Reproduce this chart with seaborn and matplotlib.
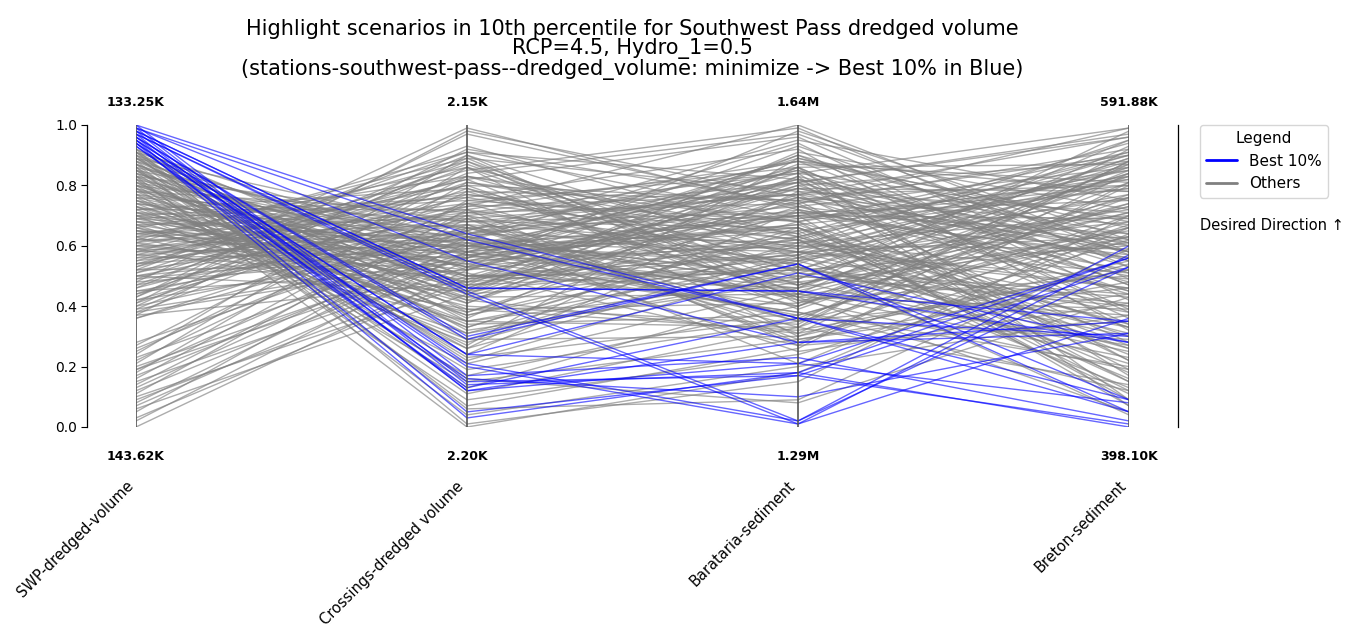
import numpy as np
import pandas as pd
import matplotlib
matplotlib.use("Agg")
import matplotlib.pyplot as plt
from matplotlib.lines import Line2D
import seaborn as sns

sns.set_style("white")
plt.rcParams["text.color"] = "black"
plt.rcParams["xtick.color"] = "black"
plt.rcParams["ytick.color"] = "black"

# axis names and the raw range shown at the top / bottom of each axis
axes_names = ["SWP-dredged-volume", "Crossings-dredged volume",
              "Barataria-sediment", "Breton-sediment"]
top_labels = ["133.25K", "2.15K", "1.64M", "591.88K"]
bottom_labels = ["143.62K", "2.20K", "1.29M", "398.10K"]

# normalised values (0 = bottom of axis, 1 = top), one entry per scenario
swp = [1.00, 0.99, 0.99, 0.98, 0.98, 0.97, 0.97, 0.96, 0.96, 0.95, 0.95, 0.94, 0.94, 0.93,
       0.99, 0.98, 0.97, 0.96, 0.95, 0.94, 0.93, 1.00,
       0.00, 0.02, 0.03, 0.05, 0.07, 0.08, 0.10, 0.11, 0.12, 0.13, 0.14, 0.15, 0.16, 0.17,
       0.18, 0.19, 0.20, 0.21, 0.22, 0.23, 0.24, 0.25, 0.26, 0.27, 0.28, 0.06, 0.09, 0.19,
       0.36, 0.37, 0.38, 0.39, 0.40, 0.41, 0.41, 0.42, 0.43, 0.44, 0.44, 0.45, 0.46, 0.46,
       0.47, 0.48, 0.48, 0.49, 0.50, 0.50, 0.51, 0.51, 0.52, 0.52, 0.53, 0.53, 0.54, 0.54,
       0.55, 0.55, 0.56, 0.56, 0.36, 0.38, 0.40, 0.42, 0.45, 0.47, 0.49, 0.43, 0.37, 0.50,
       0.52, 0.39, 0.54,
       0.57, 0.57, 0.58, 0.58, 0.59, 0.59, 0.60, 0.60, 0.61, 0.61, 0.62, 0.62, 0.63, 0.63,
       0.64, 0.64, 0.65, 0.65, 0.66, 0.66, 0.67, 0.67, 0.68, 0.68, 0.69, 0.69, 0.70, 0.70,
       0.71, 0.71, 0.72, 0.72, 0.73, 0.73, 0.74, 0.74, 0.75, 0.75, 0.76, 0.76, 0.57, 0.59,
       0.60, 0.62, 0.63, 0.65, 0.66, 0.68, 0.69, 0.70, 0.71, 0.72, 0.73, 0.74, 0.75, 0.58,
       0.61, 0.64, 0.67, 0.70,
       0.77, 0.77, 0.78, 0.78, 0.79, 0.79, 0.80, 0.80, 0.81, 0.81, 0.82, 0.82, 0.83, 0.83,
       0.84, 0.84, 0.85, 0.85, 0.86, 0.86, 0.87, 0.87, 0.88, 0.88, 0.89, 0.89, 0.90, 0.90,
       0.91, 0.91, 0.92, 0.92, 0.76, 0.78, 0.79, 0.80, 0.81, 0.82, 0.83, 0.84, 0.85, 0.86,
       0.87, 0.88, 0.89, 0.90, 0.91, 0.77, 0.80, 0.83, 0.85, 0.87, 0.89, 0.91, 0.92]

crossings = [0.64, 0.62, 0.55, 0.46, 0.46, 0.45, 0.44, 0.30, 0.29, 0.24, 0.24, 0.21, 0.20, 0.16,
             0.15, 0.14, 0.12, 0.12, 0.05, 0.03, 0.13, 0.17,
             0.52, 0.58, 0.49, 0.66, 0.55, 0.61, 0.47, 0.72, 0.57, 0.63, 0.69, 0.53, 0.75, 0.60,
             0.81, 0.67, 0.58, 0.86, 0.74, 0.62, 0.90, 0.78, 0.70, 0.83, 0.65, 0.44, 0.50, 0.56,
             0.71, 0.92, 0.55, 0.84, 0.63, 0.98, 0.77, 0.59, 0.88, 0.69, 0.81, 0.52, 0.90, 0.74,
             0.65, 0.99, 0.57, 0.83, 0.70, 0.61, 0.87, 0.76, 0.67, 0.54, 0.80, 0.91, 0.72, 0.62,
             0.85, 0.68, 0.78, 0.58, 0.66, 0.79, 0.89, 0.73, 0.64, 0.86, 0.60, 0.97, 0.48, 0.45,
             0.93, 0.56, 0.82,
             0.64, 0.49, 0.88, 0.71, 0.56, 0.39, 0.80, 0.62, 0.45, 0.74, 0.58, 0.89, 0.35, 0.67,
             0.52, 0.77, 0.43, 0.60, 0.83, 0.48, 0.31, 0.69, 0.55, 0.40, 0.75, 0.61, 0.46, 0.28,
             0.66, 0.53, 0.37, 0.72, 0.50, 0.42, 0.63, 0.33, 0.57, 0.44, 0.26, 0.68, 0.82, 0.73,
             0.51, 0.64, 0.86, 0.54, 0.38, 0.62, 0.47, 0.59, 0.41, 0.79, 0.29, 0.56, 0.35, 0.60,
             0.91, 0.70, 0.50, 0.76,
             0.48, 0.21, 0.60, 0.34, 0.53, 0.15, 0.43, 0.66, 0.27, 0.39, 0.58, 0.09, 0.46, 0.31,
             0.55, 0.19, 0.41, 0.63, 0.24, 0.04, 0.50, 0.36, 0.13, 0.57, 0.29, 0.44, 0.07, 0.52,
             0.22, 0.38, 0.01, 0.47, 0.53, 0.71, 0.37, 0.17, 0.62, 0.33, 0.00, 0.50, 0.26, 0.60,
             0.11, 0.42, 0.65, 0.32, 0.06, 0.64, 0.49, 0.68, 0.16, 0.45, 0.23, 0.58, 0.35]

barataria = [0.36, 0.36, 0.28, 0.45, 0.45, 0.02, 0.01, 0.54, 0.54, 0.51, 0.21, 0.02, 0.01, 0.10,
             0.17, 0.18, 0.28, 0.21, 0.17, 0.18, 0.36, 0.23,
             0.62, 0.44, 0.81, 0.35, 0.72, 0.58, 0.90, 0.27, 0.66, 0.49, 0.77, 0.38, 0.84, 0.55,
             0.63, 0.31, 0.70, 0.47, 0.86, 0.59, 0.42, 0.75, 0.52, 0.68, 0.21, 0.53, 0.46, 0.93,
             0.58, 0.74, 0.40, 0.97, 0.33, 0.76, 0.62, 0.85, 0.51, 0.29, 0.68, 0.79, 0.56, 0.45,
             0.88, 0.72, 0.37, 0.64, 0.81, 0.25, 0.49, 0.92, 0.60, 0.71, 0.43, 0.82, 0.54, 0.35,
             0.99, 0.66, 0.47, 0.86, 0.70, 0.52, 0.44, 0.77, 0.61, 0.30, 0.69, 0.73, 0.57, 0.80,
             0.63, 0.89, 0.39,
             0.73, 0.58, 0.41, 0.84, 0.67, 0.32, 0.75, 0.50, 0.91, 0.62, 0.46, 0.78, 0.55, 0.36,
             0.82, 0.64, 0.44, 0.70, 0.53, 0.87, 0.60, 0.40, 0.76, 0.34, 0.68, 0.48, 0.83, 0.57,
             0.42, 0.74, 0.63, 0.88, 0.51, 0.31, 0.79, 0.65, 0.45, 0.86, 0.56, 0.71, 0.96, 1.00,
             0.27, 0.81, 0.59, 0.38, 0.73, 0.94, 0.52, 0.66, 0.77, 0.43, 0.61, 0.84, 0.33, 0.54,
             0.69, 0.28, 0.80, 0.58,
             0.70, 0.46, 0.82, 0.37, 0.63, 0.29, 0.75, 0.55, 0.89, 0.41, 0.67, 0.24, 0.79, 0.50,
             0.60, 0.35, 0.86, 0.47, 0.72, 0.20, 0.57, 0.83, 0.44, 0.65, 0.30, 0.76, 0.26, 0.90,
             0.53, 0.68, 0.15, 0.62, 0.98, 0.74, 0.58, 0.40, 0.85, 0.66, 0.18, 0.52, 0.78, 0.43,
             0.33, 0.71, 0.95, 0.48, 0.09, 0.88, 0.61, 0.77, 0.08, 0.56, 0.36, 0.81, 0.49]

breton = [0.05, 0.09, 0.31, 0.35, 0.28, 0.60, 0.57, 0.05, 0.09, 0.28, 0.56, 0.53, 0.36, 0.31,
          0.01, 0.00, 0.35, 0.08, 0.53, 0.56, 0.30, 0.02,
          0.40, 0.71, 0.22, 0.88, 0.15, 0.63, 0.47, 0.80, 0.33, 0.95, 0.58, 0.12, 0.69, 0.26,
          0.85, 0.52, 0.07, 0.76, 0.38, 0.90, 0.19, 0.61, 0.44, 0.83, 0.66, 0.30, 0.98, 0.55,
          0.49, 0.22, 0.81, 0.57, 0.14, 0.67, 0.91, 0.36, 0.73, 0.44, 0.09, 0.62, 0.87, 0.27,
          0.78, 0.50, 0.68, 0.18, 0.96, 0.41, 0.84, 0.32, 0.59, 0.75, 0.05, 0.64, 0.89, 0.46,
          0.53, 0.24, 0.71, 0.39, 0.85, 0.60, 0.93, 0.28, 0.70, 0.55, 0.80, 0.45, 0.13, 0.88,
          0.34, 0.66, 0.77,
          0.86, 0.31, 0.63, 0.17, 0.79, 0.52, 0.90, 0.40, 0.72, 0.11, 0.65, 0.48, 0.83, 0.29,
          0.58, 0.94, 0.37, 0.69, 0.21, 0.81, 0.46, 0.74, 0.56, 0.88, 0.33, 0.61, 0.07, 0.77,
          0.50, 0.92, 0.26, 0.68, 0.43, 0.84, 0.55, 0.15, 0.73, 0.87, 0.38, 0.64, 0.49, 0.58,
          0.35, 0.97, 0.76, 0.20, 0.60, 0.42, 0.89, 0.30, 0.80, 0.66, 0.51, 0.99, 0.70, 0.04,
          0.82, 0.62, 0.45, 0.86,
          0.57, 0.83, 0.34, 0.66, 0.90, 0.48, 0.19, 0.72, 0.61, 0.85, 0.27, 0.54, 0.78, 0.41,
          0.95, 0.63, 0.09, 0.74, 0.52, 0.37, 0.88, 0.58, 0.23, 0.79, 0.67, 0.44, 0.81, 0.60,
          0.33, 0.91, 0.70, 0.16, 0.62, 0.99, 0.46, 0.87, 0.53, 0.12, 0.64, 0.84, 0.71, 0.39,
          0.92, 0.56, 0.75, 0.25, 0.59, 0.47, 0.82, 0.96, 0.43, 0.68, 0.76, 0.51, 0.86]

# best 10% of SWP dredged volume (minimise -> highest normalised value)
swp_arr = np.array(swp)
best = swp_arr >= np.quantile(swp_arr, 0.9)

wide = pd.DataFrame({0: swp, 1: crossings, 2: barataria, 3: breton})
wide["scenario"] = np.arange(len(wide))
wide["group"] = np.where(best, "Best 10%", "Others")
df = wide.melt(id_vars=["scenario", "group"], var_name="pos", value_name="value")
df["pos"] = df["pos"].astype(float)

fig = plt.figure(figsize=(13.48, 6.25), dpi=100)
ax = fig.add_axes([136 / 1348, 198 / 625, 993 / 1348, 302 / 625])

sns.lineplot(data=df[df.group == "Others"], x="pos", y="value", units="scenario",
             estimator=None, sort=False, color="grey", lw=1, alpha=0.65, ax=ax)
sns.lineplot(data=df[df.group == "Best 10%"], x="pos", y="value", units="scenario",
             estimator=None, sort=False, color="blue", lw=1, alpha=0.6, ax=ax)

for i in range(len(axes_names)):
    ax.axvline(i, color="#555555", lw=1.2, zorder=3)
    ax.text(i, 1.073, top_labels[i], transform=ax.get_xaxis_transform(),
            ha="center", va="center", fontsize=9, fontweight="bold")
    ax.text(i, -0.099, bottom_labels[i], transform=ax.get_xaxis_transform(),
            ha="center", va="center", fontsize=9, fontweight="bold")

ax.set_xlim(0, 3)
ax.set_ylim(0, 1)
ax.set_xticks(range(len(axes_names)))
ax.set_xticklabels(axes_names, rotation=45, ha="right", fontsize=10.5)
ax.set_yticks(np.arange(0, 1.01, 0.2))
ax.set_yticklabels([f"{v:.1f}" for v in np.arange(0, 1.01, 0.2)], fontsize=10.5)
ax.tick_params(axis="x", length=0, pad=37)
ax.tick_params(axis="y", length=4, color="black", left=True)
ax.set_xlabel("")
ax.set_ylabel("")

for side in ["top", "bottom"]:
    ax.spines[side].set_visible(False)
for side in ["left", "right"]:
    ax.spines[side].set_position(("outward", 35))
    ax.spines[side].set_color("black")
    ax.spines[side].set_linewidth(0.9)

ax.set_title("Highlight scenarios in 10th percentile for Southwest Pass dredged volume\n"
             "RCP=4.5, Hydro_1=0.5\n"
             "(stations-southwest-pass--dredged_volume: minimize -> Best 10% in Blue)",
             fontsize=15, linespacing=0.98, pad=36)

handles = [Line2D([0], [0], color="blue", lw=2, label="Best 10%"),
           Line2D([0], [0], color="grey", lw=2, label="Others")]
ax.legend(handles=handles, title="Legend", loc="upper left", borderaxespad=0,
          bbox_to_anchor=(1.0715, 1.0), fontsize=11, title_fontsize=11, frameon=True)
ax.text(1.071, 0.666, "Desired Direction \u2191", transform=ax.transAxes,
        ha="left", va="center", fontsize=10.5)

fig.savefig("out.png", dpi=100)
